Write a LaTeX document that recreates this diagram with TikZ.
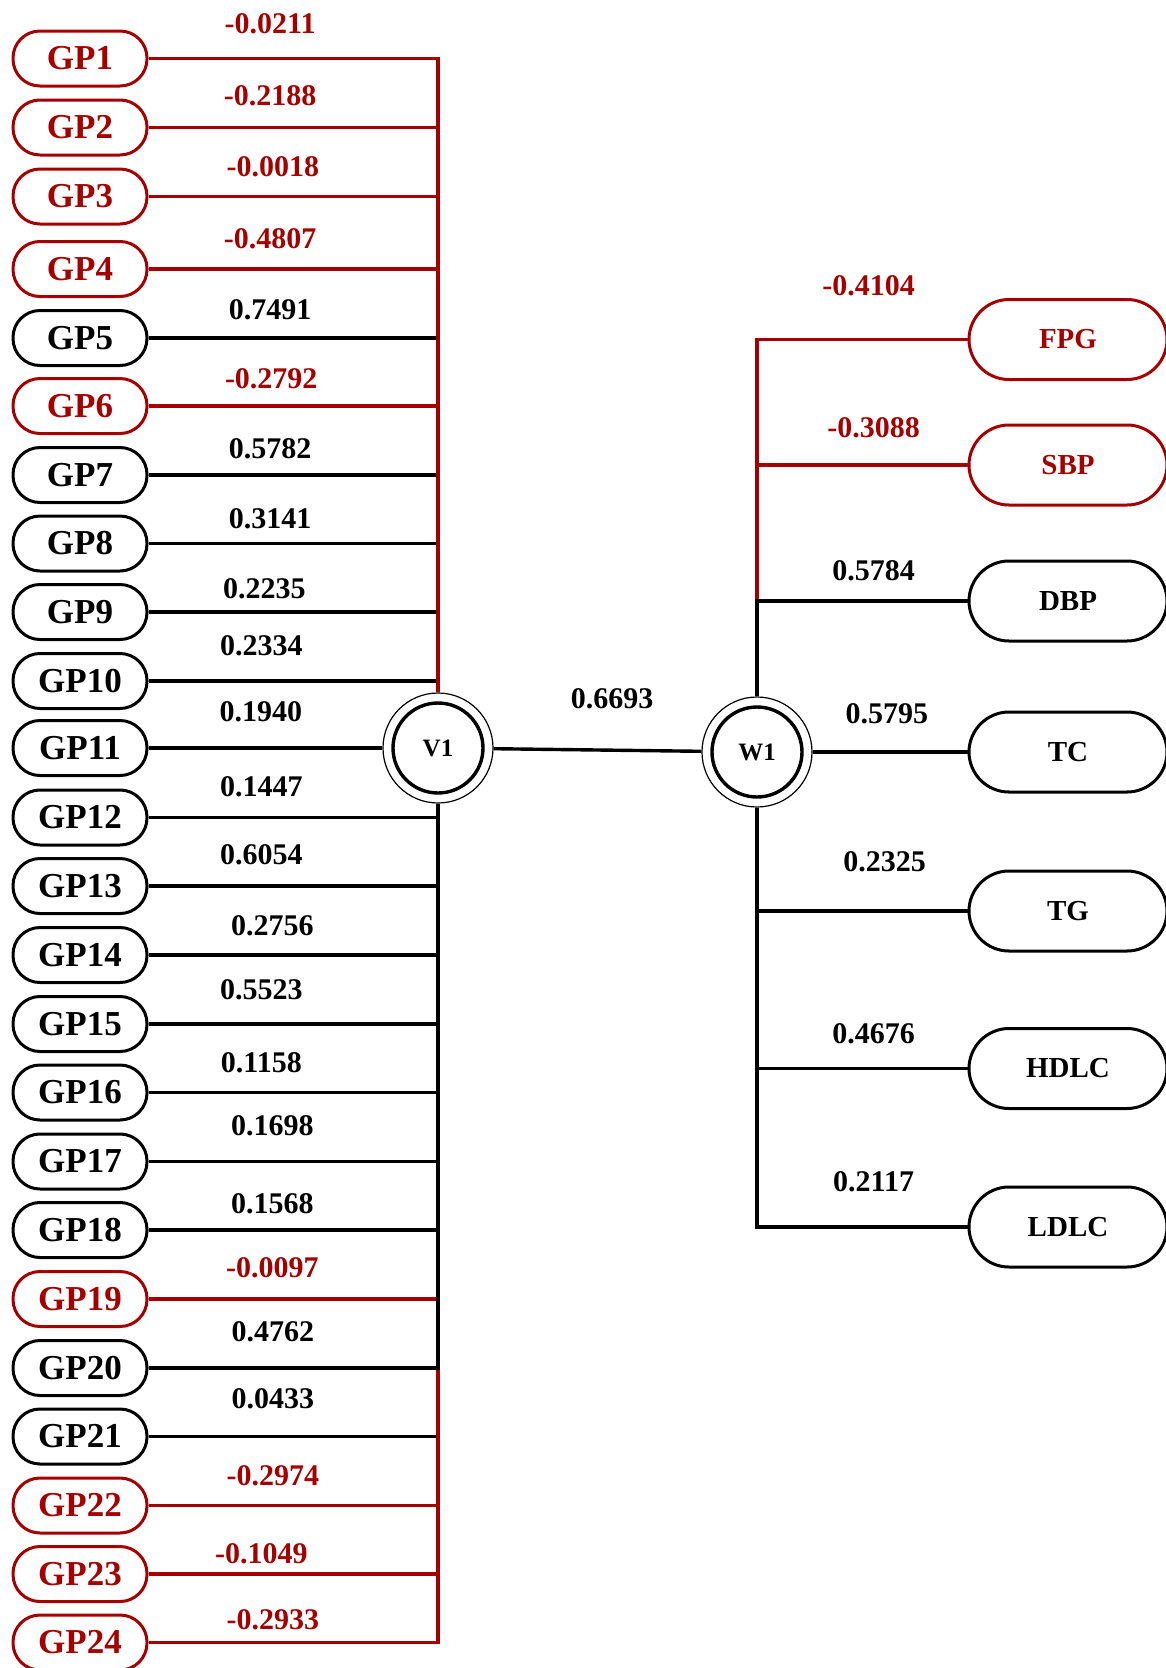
\documentclass[tikz,border=0pt]{standalone}
\usepackage{fontspec}
\setmainfont{Liberation Serif}
\definecolor{negred}{RGB}{165,0,0}

\begin{document}
\begin{tikzpicture}[
    x=1pt, y=-1pt,
    gp/.style={draw, line width=3pt, rounded corners=27pt, minimum width=134pt,
      minimum height=55pt, inner sep=0pt, font=\fontsize{35}{40}\selectfont\bfseries},
    ind/.style={draw, line width=3pt, rounded corners=40pt, minimum width=198pt,
      minimum height=80pt, inner sep=0pt, font=\fontsize{29}{34}\selectfont\bfseries},
    neg/.style={draw=negred, text=negred},
    hub/.style={circle, draw, line width=1.2pt, minimum size=110pt, inner sep=0pt,
      font=\fontsize{25}{30}\selectfont\bfseries,
      path picture={\draw[line width=3.4pt] (path picture bounding box.center) circle (45pt);}},
    ln/.style={line width=3.4pt},
    lbl/.style={font=\fontsize{30}{34}\selectfont\bfseries, inner sep=0pt}
  ]
  \useasboundingbox (0,0) rectangle (1166,1668);

  \node[hub] (V1) at (438,748) {V1};
  \node[hub] (W1) at (757,752) {W1};

  \node[gp,neg] (GP1) at (80,58.5) {GP1};
  \node[gp,neg] (GP2) at (80,127.5) {GP2};
  \node[gp,neg] (GP3) at (80,196.5) {GP3};
  \node[gp,neg] (GP4) at (80,269) {GP4};
  \node[gp] (GP5) at (80,338) {GP5};
  \node[gp,neg] (GP6) at (80,406) {GP6};
  \node[gp] (GP7) at (80,475) {GP7};
  \node[gp] (GP8) at (80,543.5) {GP8};
  \node[gp] (GP9) at (80,612) {GP9};
  \node[gp] (GP10) at (80,681) {GP10};
  \node[gp] (GP11) at (80,748) {GP11};
  \node[gp] (GP12) at (80,817.5) {GP12};
  \node[gp] (GP13) at (80,886) {GP13};
  \node[gp] (GP14) at (80,955) {GP14};
  \node[gp] (GP15) at (80,1024) {GP15};
  \node[gp] (GP16) at (80,1092.5) {GP16};
  \node[gp] (GP17) at (80,1161.5) {GP17};
  \node[gp] (GP18) at (80,1230) {GP18};
  \node[gp,neg] (GP19) at (80,1299) {GP19};
  \node[gp] (GP20) at (80,1368) {GP20};
  \node[gp] (GP21) at (80,1436.5) {GP21};
  \node[gp,neg] (GP22) at (80,1505.5) {GP22};
  \node[gp,neg] (GP23) at (80,1574) {GP23};
  \node[gp,neg] (GP24) at (80,1642.5) {GP24};

  \node[ind,neg] (FPG) at (1068,339.5) {FPG};
  \node[ind,neg] (SBP) at (1068,465) {SBP};
  \node[ind] (DBP) at (1068,601) {DBP};
  \node[ind] (TC) at (1068,752) {TC};
  \node[ind] (TG) at (1068,911) {TG};
  \node[ind] (HDLC) at (1068,1068.5) {HDLC};
  \node[ind] (LDLC) at (1068,1227) {LDLC};

  % upper branch of V1
  \draw[ln] (GP5.east) -| node[lbl,pos=0.21,yshift=28pt] {0.7491} (V1.north);
  \draw[ln] (GP7.east) -| node[lbl,pos=0.21,yshift=26pt] {0.5782} (V1.north);
  \draw[ln] (GP8.east) -| node[lbl,pos=0.21,yshift=25pt] {0.3141} (V1.north);
  \draw[ln] (GP9.east) -| node[lbl,pos=0.20,yshift=23pt] {0.2235} (V1.north);
  \draw[ln] (GP10.east) -| node[lbl,pos=0.195,yshift=35pt] {0.2334} (V1.north);
  \draw[ln,negred] (GP1.east) -| node[lbl,pos=0.21,yshift=35pt] {-0.0211} (V1.north);
  \draw[ln,negred] (GP2.east) -| node[lbl,pos=0.21,yshift=32pt] {-0.2188} (V1.north);
  \draw[ln,negred] (GP3.east) -| node[lbl,pos=0.215,yshift=30pt] {-0.0018} (V1.north);
  \draw[ln,negred] (GP4.east) -| node[lbl,pos=0.21,yshift=30pt] {-0.4807} (V1.north);
  \draw[ln,negred] (GP6.east) -| node[lbl,pos=0.212,yshift=27pt] {-0.2792} (V1.north);

  \draw[ln] (GP11.east) -- node[lbl,pos=0.48,yshift=36pt] {0.1940} (V1.west);

  % lower branch of V1
  \draw[ln] (GP21.east) -| node[lbl,pos=0.215,yshift=38pt] {0.0433} (V1.south);
  \draw[ln,negred] (GP19.east) -| node[lbl,pos=0.214,yshift=31pt] {-0.0097} (V1.south);
  \draw[ln,negred] (GP22.east) -| node[lbl,pos=0.215,yshift=30pt] {-0.2974} (V1.south);
  \draw[ln,negred] (GP23.east) -| node[lbl,pos=0.195,yshift=20pt] {-0.1049} (V1.south);
  \draw[ln,negred] (GP24.east) -| node[lbl,pos=0.215,yshift=23pt] {-0.2933} (V1.south);
  \draw[ln] (GP12.east) -| node[lbl,pos=0.195,yshift=31pt] {0.1447} (V1.south);
  \draw[ln] (GP13.east) -| node[lbl,pos=0.195,yshift=31pt] {0.6054} (V1.south);
  \draw[ln] (GP14.east) -| node[lbl,pos=0.214,yshift=29pt] {0.2756} (V1.south);
  \draw[ln] (GP15.east) -| node[lbl,pos=0.195,yshift=34pt] {0.5523} (V1.south);
  \draw[ln] (GP16.east) -| node[lbl,pos=0.195,yshift=30pt] {0.1158} (V1.south);
  \draw[ln] (GP17.east) -| node[lbl,pos=0.214,yshift=36pt] {0.1698} (V1.south);
  \draw[ln] (GP18.east) -| node[lbl,pos=0.214,yshift=26pt] {0.1568} (V1.south);
  \draw[ln] (GP20.east) -| node[lbl,pos=0.215,yshift=36pt] {0.4762} (V1.south);

  \draw[ln] (V1) -- node[lbl,pos=0.57,yshift=51pt] {0.6693} (W1);

  % W1 branches
  \draw[ln,negred] (FPG.west) -| node[lbl,pos=0.235,yshift=54pt] {-0.4104} (W1.north);
  \draw[ln,negred] (SBP.west) -| node[lbl,pos=0.223,yshift=37pt] {-0.3088} (W1.north);
  \draw[ln] (DBP.west) -| node[lbl,pos=0.223,yshift=30pt] {0.5784} (W1.north);
  \draw[ln] (TC.west) -- node[lbl,pos=0.52,yshift=38pt] {0.5795} (W1.east);
  \draw[ln] (TG.west) -| node[lbl,pos=0.197,yshift=49pt] {0.2325} (W1.south);
  \draw[ln] (HDLC.west) -| node[lbl,pos=0.223,yshift=35pt] {0.4676} (W1.south);
  \draw[ln] (LDLC.west) -| node[lbl,pos=0.223,yshift=45pt] {0.2117} (W1.south);
\end{tikzpicture}
\end{document}
